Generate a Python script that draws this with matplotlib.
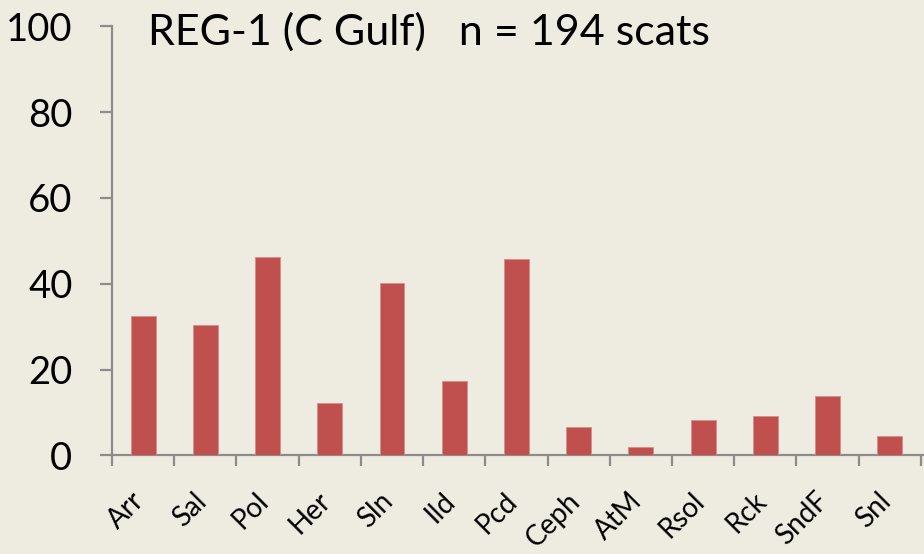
import matplotlib
matplotlib.use("Agg")
import matplotlib.pyplot as plt
import matplotlib.transforms as mtransforms
import numpy as np

categories = ["Arr", "Sal", "Pol", "Her", "Sln", "Ild", "Pcd", "Ceph", "AtM", "Rsol", "Rck", "SndF", "Snl"]
values = [32.4, 30.3, 46.3, 12.3, 40.1, 17.4, 45.7, 6.5, 1.9, 8.2, 9.1, 13.8, 4.5]
yticks = [0, 20, 40, 60, 80, 100]
title = "REG-1 (C Gulf)   n = 194 scats"

bg = "#EEEBE0"
bar_color = "#C0504D"
axis_color = "#8C8C8C"

plt.rcParams['font.family'] = ['Lato', 'DejaVu Sans']

fig = plt.figure(figsize=(9.24, 5.54), dpi=100, facecolor=bg)
ax = fig.add_axes([112/924, 1-455.3/554, (924-112)/924, (455.3-26.3)/554])
ax.set_facecolor(bg)

x = np.arange(len(categories))
ax.bar(x, values, width=0.4, color=bar_color, edgecolor="#D98C8A", linewidth=0.6, zorder=3)

ax.set_xlim(-0.5, len(categories) - 0.5 + 0.05)
ax.set_ylim(0, 100)

for s in ["top", "right"]:
    ax.spines[s].set_visible(False)
for s in ["left", "bottom"]:
    ax.spines[s].set_color(axis_color)
    ax.spines[s].set_linewidth(1.6)

ax.set_yticks(yticks)
ax.set_yticklabels([str(v) for v in yticks], fontsize=27.5)
ax.tick_params(axis="y", direction="out", length=8.5, width=1.6, color=axis_color, pad=20)

ax.set_xticks(np.arange(len(categories) + 1) - 0.5)
ax.set_xticklabels([])
ax.tick_params(axis="x", which="major", direction="out", length=8, width=1.6, color=axis_color)
ax.set_xticks(x, minor=True)
ax.set_xticklabels(categories, minor=True, rotation=45, ha="right", va="center",
                   rotation_mode="anchor", fontsize=20)
ax.tick_params(axis="x", which="minor", length=0, pad=30)
offset = mtransforms.ScaledTranslation(-3/100, 0, fig.dpi_scale_trans)
for lbl in ax.get_xticklabels(minor=True):
    lbl.set_transform(lbl.get_transform() + offset)

fig.text(148/924, 1-45/554, title, fontsize=31, ha="left", va="baseline")

fig.savefig("out.png", dpi=100, facecolor=bg)
